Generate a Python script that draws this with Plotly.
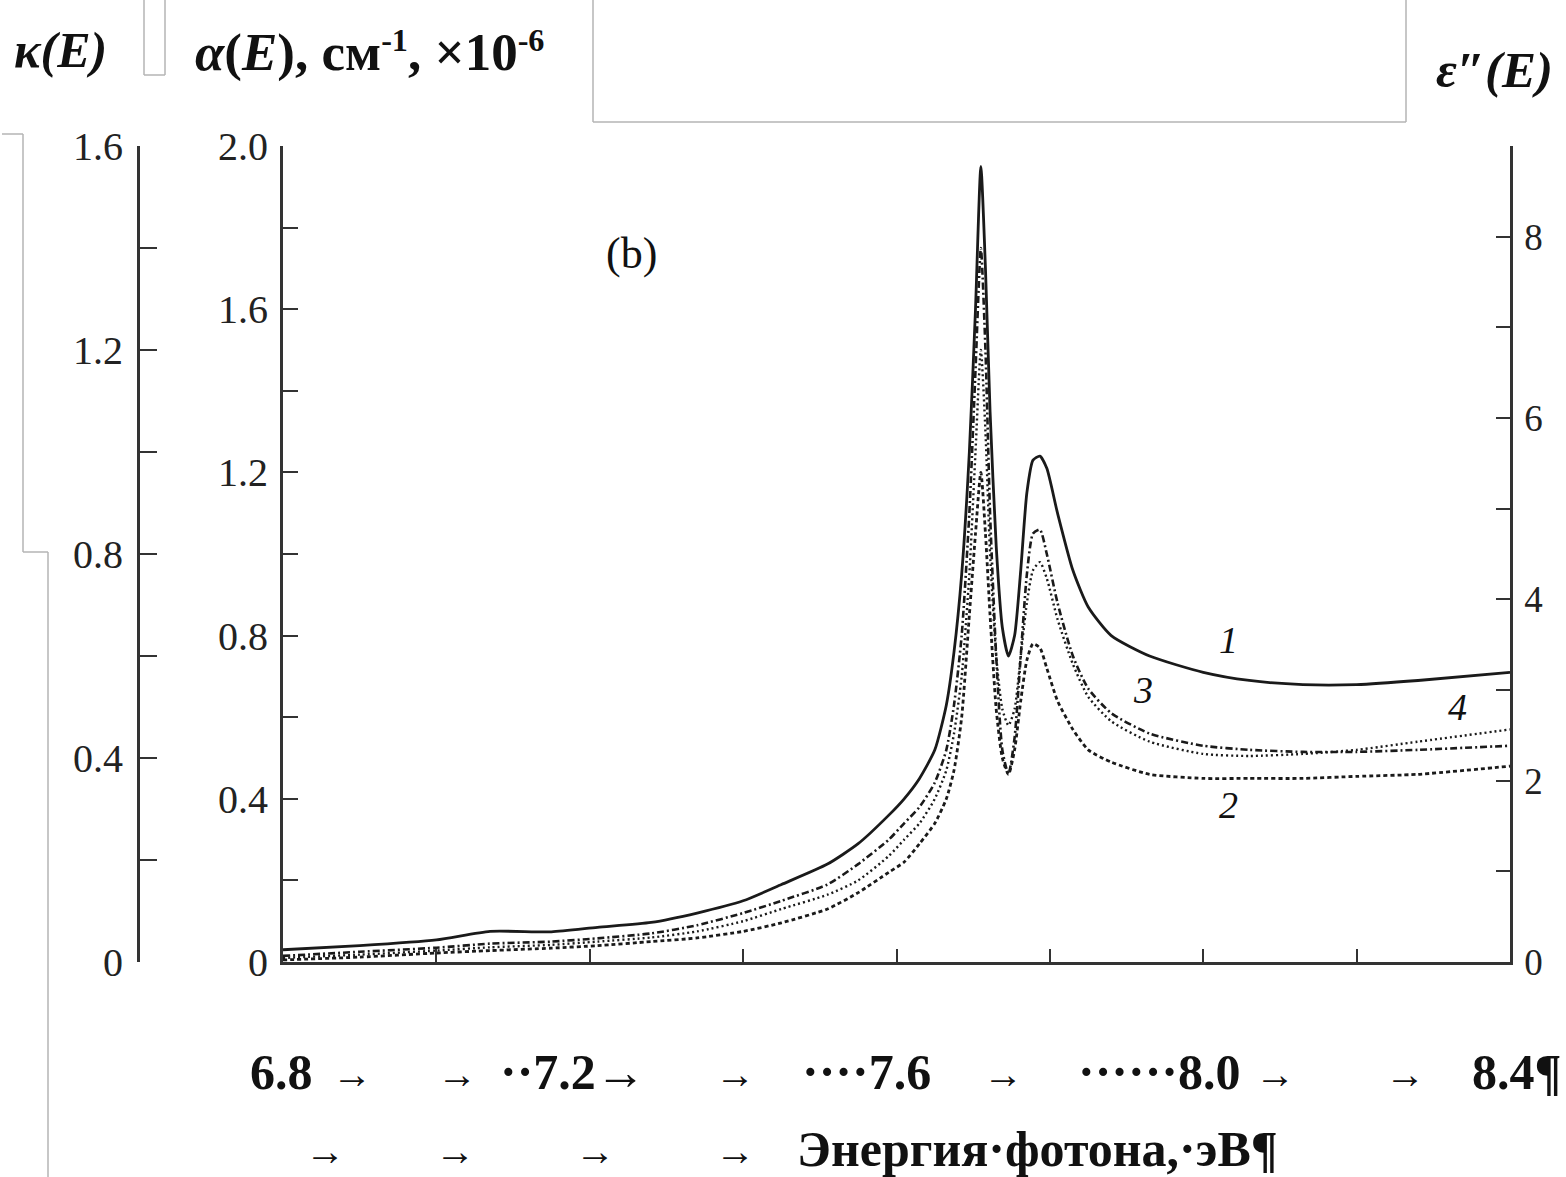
import plotly.graph_objects as go

# ---------------- data ----------------
energy = [6.80, 6.90, 7.00, 7.07, 7.15, 7.21, 7.28, 7.34, 7.40, 7.45, 7.51, 7.55,
          7.59, 7.61, 7.63, 7.65, 7.665, 7.675, 7.685, 7.695, 7.703, 7.71, 7.716,
          7.722, 7.73, 7.738, 7.746, 7.754, 7.762, 7.77, 7.778, 7.787, 7.796, 7.81,
          7.83, 7.85, 7.88, 7.93, 8.00, 8.06, 8.13, 8.20, 8.28, 8.40]

curve1 = [0.030, 0.040, 0.054, 0.075, 0.074, 0.085, 0.097, 0.120, 0.150, 0.190, 0.240, 0.290,
          0.360, 0.400, 0.450, 0.520, 0.630, 0.760, 0.950, 1.250, 1.600, 1.950, 1.700,
          1.350, 1.020, 0.820, 0.750, 0.800, 0.960, 1.150, 1.230, 1.240, 1.210, 1.100,
          0.960, 0.870, 0.800, 0.750, 0.710, 0.690, 0.680, 0.680, 0.690, 0.710]

curve2 = [0.005, 0.012, 0.022, 0.028, 0.034, 0.040, 0.050, 0.059, 0.075, 0.096, 0.130, 0.170,
          0.220, 0.245, 0.290, 0.340, 0.400, 0.470, 0.600, 0.850, 1.050, 1.200, 1.050,
          0.850, 0.620, 0.500, 0.460, 0.520, 0.640, 0.740, 0.780, 0.770, 0.720, 0.640,
          0.570, 0.520, 0.490, 0.460, 0.450, 0.450, 0.450, 0.455, 0.460, 0.480]

curve3 = [0.015, 0.025, 0.035, 0.045, 0.050, 0.058, 0.070, 0.090, 0.120, 0.150, 0.190, 0.240,
          0.300, 0.340, 0.380, 0.440, 0.520, 0.630, 0.800, 1.100, 1.450, 1.750, 1.500,
          1.100, 0.750, 0.520, 0.460, 0.550, 0.750, 0.950, 1.050, 1.060, 1.000, 0.880,
          0.750, 0.670, 0.610, 0.560, 0.530, 0.520, 0.515, 0.515, 0.520, 0.530]

curve4 = [0.010, 0.018, 0.028, 0.036, 0.042, 0.050, 0.060, 0.075, 0.100, 0.130, 0.165, 0.200,
          0.260, 0.300, 0.340, 0.400, 0.470, 0.560, 0.700, 0.950, 1.250, 1.500, 1.300,
          1.000, 0.750, 0.620, 0.580, 0.620, 0.750, 0.880, 0.960, 0.980, 0.940, 0.840,
          0.730, 0.650, 0.590, 0.540, 0.510, 0.505, 0.510, 0.520, 0.540, 0.570]

x_ticks = [6.8, 7.0, 7.2, 7.4, 7.6, 7.8, 8.0, 8.2, 8.4]
alpha_ticks = [0, 0.2, 0.4, 0.6, 0.8, 1.0, 1.2, 1.4, 1.6, 1.8, 2.0]
alpha_labels = ["0", " ", "0.4", " ", "0.8", " ", "1.2", " ", "1.6", " ", "2.0"]
kappa_ticks = [0, 0.2, 0.4, 0.6, 0.8, 1.0, 1.2, 1.4, 1.6]
kappa_labels = ["0", " ", "0.4", " ", "0.8", " ", "1.2", " ", "1.6"]
eps_ticks = [0, 1, 2, 3, 4, 5, 6, 7, 8, 9]
eps_labels = ["0", " ", "2", " ", "4", " ", "6", " ", "8", " "]

curve_names = ["1", "2", "3", "4"]

# ---------------- layout geometry ----------------
W, H = 1566, 1177
ML, MR, MT, MB = 20, 20, 146, 215
PW = W - ML - MR
PH = H - MT - MB


def px(xpix):
    return (xpix - ML) / PW


def py(ypix):
    return (H - MB - ypix) / PH


AX = "#333333"
INK = "#1a1a1a"
SERIF = "Liberation Serif, Times New Roman, serif"

fig = go.Figure()

styles = [
    dict(color=INK, width=2.8, dash="solid"),
    dict(color=INK, width=2.8, dash="4px,3px"),
    dict(color=INK, width=2.6, dash="7px,3px,2px,3px"),
    dict(color=INK, width=2.4, dash="2px,3px"),
]
for name, vals, st in zip(curve_names, [curve1, curve2, curve3, curve4], styles):
    fig.add_trace(go.Scatter(x=energy, y=vals, mode="lines", name=name,
                             line=dict(shape="spline", smoothing=0.6, **st),
                             showlegend=False, hoverinfo="skip"))

# empty traces so the secondary axes are drawn
fig.add_trace(go.Scatter(x=[None], y=[None], yaxis="y2", showlegend=False))
fig.add_trace(go.Scatter(x=[None], y=[None], yaxis="y3", showlegend=False))

tickfont_l = dict(family=SERIF, size=40, color="#222")
tickfont_r = dict(family=SERIF, size=37, color="#222")

fig.update_layout(
    width=W, height=H, autosize=False,
    margin=dict(l=ML, r=MR, t=MT, b=MB, pad=0),
    paper_bgcolor="white", plot_bgcolor="white",
    xaxis=dict(domain=[px(283), px(1510)], range=[6.8, 8.4], tickvals=x_ticks,
               showticklabels=False, ticks="inside", ticklen=13, tickwidth=2.2,
               tickcolor=AX, showline=True, linecolor=AX, linewidth=2.8,
               showgrid=False, zeroline=False, mirror=False),
    yaxis=dict(range=[0, 2.0], tickvals=alpha_ticks, ticktext=alpha_labels,
               ticks="inside", ticklen=15, tickwidth=2.2, tickcolor=AX,
               showline=True, linecolor=AX, linewidth=2.8, showgrid=False,
               zeroline=False, tickfont=tickfont_l, ticklabelstandoff=4),
    yaxis2=dict(range=[0, 9], overlaying="y", side="right", anchor="x",
                tickvals=eps_ticks, ticktext=eps_labels, ticks="inside",
                ticklen=14, tickwidth=2.2, tickcolor=AX, showline=True,
                linecolor=AX, linewidth=2.8, showgrid=False, zeroline=False,
                tickfont=tickfont_r, ticklabelstandoff=4),
    yaxis3=dict(range=[0, 1.6], overlaying="y", side="left", anchor="free",
                position=px(138), tickvals=kappa_ticks, ticktext=kappa_labels,
                ticks="inside", ticklen=17, tickwidth=2.2, tickcolor=AX,
                showline=True, linecolor=AX, linewidth=2.8, showgrid=False,
                zeroline=False, tickfont=tickfont_l, ticklabelstandoff=6),
)

ann = []


def text(x, y, s, size, xanchor="left", bold=False, italic=False, family=SERIF):
    t = s
    if bold:
        t = "<b>" + t + "</b>"
    if italic:
        t = "<i>" + t + "</i>"
    ann.append(dict(x=px(x), y=py(y), xref="paper", yref="paper", text=t,
                    showarrow=False, xanchor=xanchor, yanchor="middle",
                    font=dict(family=family, size=size, color="#111")))


# top axis titles
text(12, 50, "κ(<i>E</i>)", 50, bold=True, italic=True)
text(193, 52, "<i>α</i>(<i>E</i>), см<span style='font-size:46px'><sup>-1</sup></span>, ×10<span style='font-size:46px'><sup>-6</sup></span>", 53, bold=True)
text(1434, 70, "ε″(<i>E</i>)", 51, bold=True, italic=True)

# panel label and curve labels
text(631, 253, "(b)", 44, xanchor="center")
text(1228, 640, "1", 38, xanchor="center", italic=True)
text(1228, 805, "2", 38, xanchor="center", italic=True)
text(1143, 690, "3", 38, xanchor="center", italic=True)
text(1457, 707, "4", 38, xanchor="center", italic=True)

# bottom text rows (x tick values + axis title, as in the source document)
ROW1, ROW2 = 1072, 1149
BIG = 50
ARR = 40
text(248, ROW1, "6.8", BIG, bold=True)
for xa in [352, 457, 735, 1003, 1275, 1405]:
    text(xa, ROW1 + 2, "→", ARR, xanchor="center", bold=True)
text(648, ROW1, "··7.2→", BIG, xanchor="right", bold=True)
text(933, ROW1, "····7.6", BIG, xanchor="right", bold=True)
text(1243, ROW1, "······8.0", BIG, xanchor="right", bold=True)
text(1470, ROW1, "8.4¶", BIG, bold=True)
for xa in [325, 455, 595, 735]:
    text(xa, ROW2 + 2, "→", ARR, xanchor="center", bold=True)
text(795, ROW2, "Энергия·фотона,·эВ¶", BIG, bold=True)

fig.update_layout(annotations=ann)

# thin grey frame artefacts of the source document
GR = "#b5b5b5"
shapes = []


def seg(x0, y0, x1, y1):
    shapes.append(dict(type="line", xref="paper", yref="paper",
                       x0=px(x0), y0=py(y0), x1=px(x1), y1=py(y1),
                       line=dict(color=GR, width=1.5)))


seg(144, 0, 144, 75)
seg(144, 75, 165, 75)
seg(165, 75, 165, 0)
seg(593, 0, 593, 122)
seg(593, 122, 1406, 122)
seg(1406, 122, 1406, 0)
seg(2, 134, 23, 134)
seg(23, 134, 23, 552)
seg(23, 552, 48, 552)
seg(48, 552, 48, 1177)
fig.update_layout(shapes=shapes)

fig.write_html("out.html", config={"displayModeBar": False},
               post_script="document.body.style.margin='0';document.body.style.overflow='hidden';")
